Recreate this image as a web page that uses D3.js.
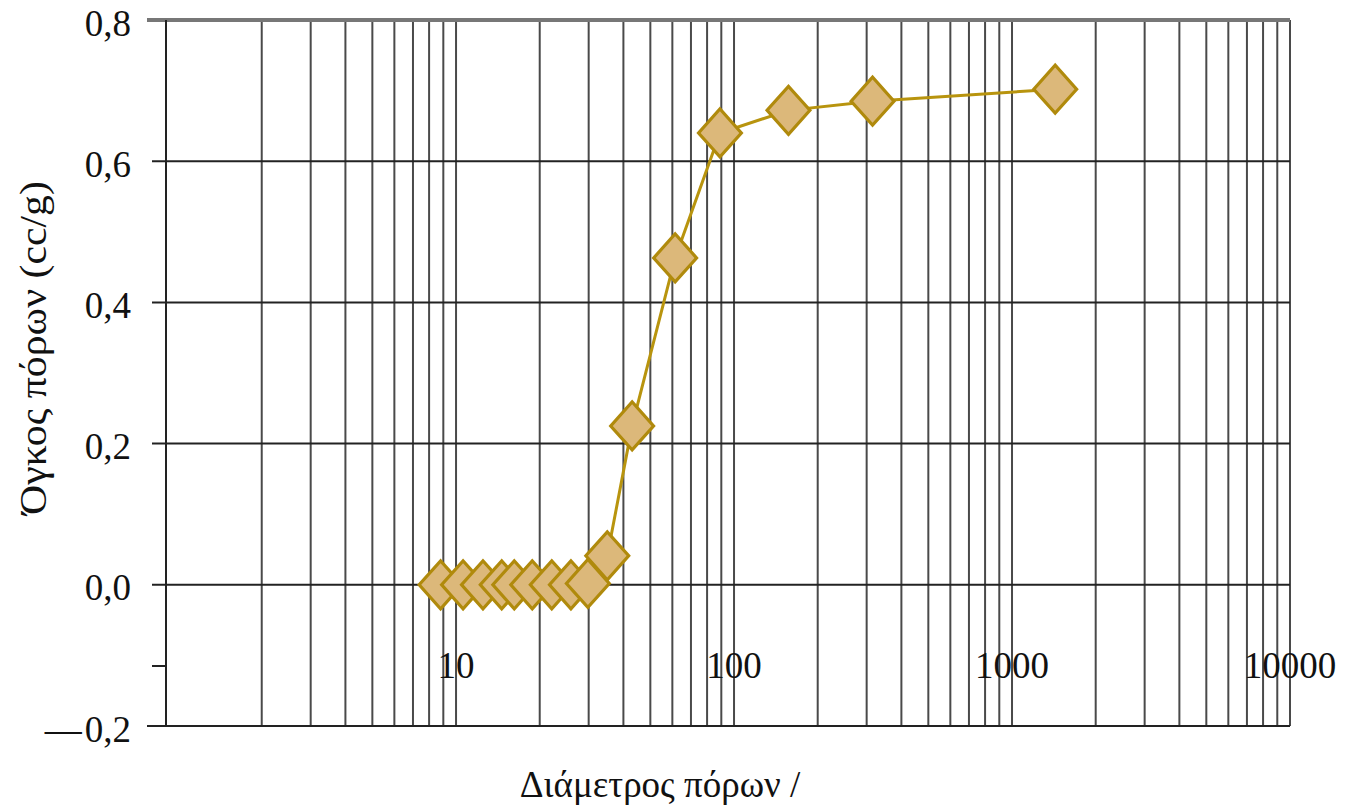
<!DOCTYPE html>
<html>
<head>
<meta charset="utf-8">
<script src="https://cdn.jsdelivr.net/npm/d3@7"></script>
<style>
  body { margin: 0; background: #fff; }
  text { font-family: "Liberation Serif", "Times New Roman", serif; fill: #111; }
</style>
</head>
<body>
<svg width="1353" height="806"></svg>
<script>
// pore diameter (x, log) and pore volume cc/g (y)
var diameters = [8.8, 10.6, 12.5, 14.6, 16.2, 18.8, 22.1, 25.9, 29.8, 35, 43, 61.4, 89, 157, 315, 1430];
var volumes   = [0.0, 0.0, 0.0, 0.0, 0.0, 0.0, 0.0, 0.0, 0.002, 0.041, 0.225, 0.463, 0.640, 0.672, 0.685, 0.702];

var yTicks = [0.8, 0.6, 0.4, 0.2, 0.0, -0.2];
var xLabels = [10, 100, 1000, 10000];
var xTitle = "Διάμετρος πόρων /";
var yTitle = "Όγκος πόρων (cc/g)";

var svg = d3.select("svg");

var x = d3.scaleLog().domain([0.905, 10000]).range([166, 1290]);
var y = d3.scaleLinear().domain([-0.2, 0.8]).range([726, 20]);

// vertical grid: 2..9 per decade plus decades
var vlines = [];
[1, 10, 100, 1000].forEach(function(base) {
  for (var k = 2; k <= 10; k++) vlines.push(base * k);
});

svg.append("g").selectAll("line")
  .data(vlines)
  .enter().append("line")
  .attr("x1", function(d) { return x(d); })
  .attr("x2", function(d) { return x(d); })
  .attr("y1", y(0.8))
  .attr("y2", y(-0.2))
  .attr("stroke", "#4a4a4a")
  .attr("stroke-width", 2);

// horizontal grid + ticks
svg.append("g").selectAll("line")
  .data(yTicks)
  .enter().append("line")
  .attr("x1", function(d) { return (d == 0.8 || d == -0.2) ? 147 : 152; })
  .attr("x2", x(10000))
  .attr("y1", function(d) { return y(d); })
  .attr("y2", function(d) { return y(d); })
  .attr("stroke", function(d) { return d == 0.8 ? "#777" : "#222"; })
  .attr("stroke-width", function(d) { return d == 0.8 ? 4 : 2; });

// y axis line
svg.append("line")
  .attr("x1", x(0.905)).attr("x2", x(0.905))
  .attr("y1", y(0.8)).attr("y2", y(-0.2))
  .attr("stroke", "#222").attr("stroke-width", 2);

// small extra tick where the category labels sit
svg.append("line")
  .attr("x1", 152).attr("x2", x(0.905))
  .attr("y1", y(-0.115)).attr("y2", y(-0.115))
  .attr("stroke", "#222").attr("stroke-width", 2);

// y tick labels
var fmt = function(d) {
  var s = d3.format(".1f")(Math.abs(d)).replace(".", ",");
  return d < 0 ? "\u2014\u200a" + s : s;
};
svg.append("g").selectAll("text")
  .data(yTicks)
  .enter().append("text")
  .attr("x", 131)
  .attr("y", function(d) { return y(d) + 3; })
  .attr("text-anchor", "end")
  .attr("dominant-baseline", "central")
  .attr("font-size", 37)
  .text(fmt);

// x tick labels (sitting inside the plot)
svg.append("g").selectAll("text")
  .data(xLabels)
  .enter().append("text")
  .attr("x", function(d) { return x(d); })
  .attr("y", y(-0.115))
  .attr("text-anchor", "middle")
  .attr("dominant-baseline", "central")
  .attr("font-size", 37)
  .text(function(d) { return d; });

// series line
var pts = diameters.map(function(d, i) { return [d, volumes[i]]; });
svg.append("path")
  .datum(pts)
  .attr("fill", "none")
  .attr("stroke", "#b8940e")
  .attr("stroke-width", 3)
  .attr("d", d3.line().x(function(d) { return x(d[0]); }).y(function(d) { return y(d[1]); }));

// diamond markers
var sym = d3.symbol().type(d3.symbolSquare).size(920);
svg.append("g").selectAll("path")
  .data(pts)
  .enter().append("path")
  .attr("d", sym)
  .attr("transform", function(d) {
    return "translate(" + x(d[0]) + "," + y(d[1]) + ") scale(1,1.12) rotate(45)";
  })
  .attr("fill", "#dcb87a")
  .attr("stroke", "#b08a0c")
  .attr("stroke-width", 3);

// axis titles
svg.append("text")
  .attr("x", 660)
  .attr("y", 797)
  .attr("text-anchor", "middle")
  .attr("font-size", 37)
  .text(xTitle);

svg.append("text")
  .attr("transform", "translate(46,348) rotate(-90) scale(1.13,1)")
  .attr("text-anchor", "middle")
  .attr("font-size", 37)
  .text(yTitle);
</script>
</body>
</html>
